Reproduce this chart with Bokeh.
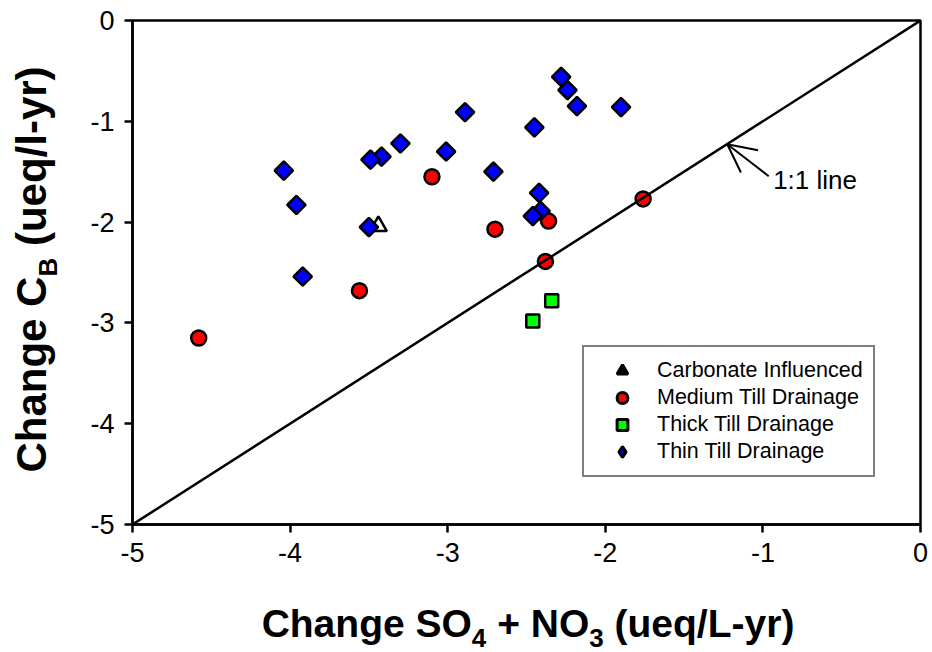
import math
from bokeh.plotting import figure
from bokeh.models import (Range1d, Legend, LegendItem, Label, Arrow, OpenHead,
                          FixedTicker, LinearAxis)
from bokeh.embed import file_html
from bokeh.resources import INLINE

# ---- data ----
carb_x = [-3.44]
carb_y = [-2.04]

med_x = [-3.10, -2.36, -2.70, -1.76, -2.38, -3.56, -4.58]
med_y = [-1.55, -1.99, -2.07, -1.77, -2.39, -2.68, -3.15]

thick_x = [-2.34, -2.46]
thick_y = [-2.78, -2.98]

thin_x = [-2.28, -2.24, -2.18, -1.90, -2.89, -2.45, -3.30, -3.42, -3.49,
          -3.01, -4.04, -2.71, -2.42, -3.96, -2.41, -2.46, -3.50, -3.92]
thin_y = [-0.56, -0.69, -0.85, -0.86, -0.91, -1.06, -1.22, -1.35, -1.38,
          -1.30, -1.49, -1.50, -1.71, -1.83, -1.89, -1.94, -2.05, -2.54]

line_x = [-5, 0]
line_y = [-5, 0]

x_ticks = [-5, -4, -3, -2, -1, 0]
y_ticks = [-5, -4, -3, -2, -1, 0]

series_labels = ["Carbonate Influenced", "Medium Till Drainage",
                 "Thick Till Drainage", "Thin Till Drainage"]

# axis titles: (text, is_subscript)
x_title = [("Change SO", False), ("4", True), (" + NO", False), ("3", True), (" (ueq/L-yr)", False)]
y_title = [("Change C", False), ("B", True), (" (ueq/l-yr)", False)]

FONT = "Liberation Sans"
NAN = float("nan")
X0, X1, Y0, Y1 = -5, 0, -5, 0
FRAME_W, FRAME_H = 788, 504

p = figure(frame_width=FRAME_W, frame_height=FRAME_H,
           x_range=Range1d(X0, X1), y_range=Range1d(Y0, Y1),
           output_backend="svg", toolbar_location=None,
           min_border_left=132, min_border_right=12,
           min_border_top=20, min_border_bottom=128)

p.xgrid.visible = False
p.ygrid.visible = False
p.background_fill_color = "white"
p.border_fill_color = "white"
p.outline_line_color = "black"
p.outline_line_width = 2.5
p.outline_line_alpha = 1

for ax, ticks in ((p.xaxis[0], x_ticks), (p.yaxis[0], y_ticks)):
    ax.ticker = FixedTicker(ticks=ticks)
    ax.major_label_overrides = {t: str(t) for t in ticks}
    ax.axis_line_color = "black"
    ax.axis_line_width = 2.5
    ax.major_tick_line_color = "black"
    ax.major_tick_line_width = 2.5
    ax.major_tick_in = 0
    ax.major_tick_out = 8
    ax.minor_tick_line_color = None
    ax.major_label_text_font = FONT
    ax.major_label_text_font_size = "27px"
    ax.major_label_text_color = "black"
    ax.major_label_standoff = 10
    ax.axis_label = None

# ---- data marks ----
p.scatter(carb_x, carb_y, marker="triangle", size=17,
          fill_color="white", line_color="black", line_width=2.5)
p.scatter(med_x, med_y, marker="circle", size=15,
          fill_color="#ff0000", line_color="black", line_width=2.5)
p.scatter(thick_x, thick_y, marker="square", size=13,
          fill_color="#00ff00", line_color="black", line_width=2.5)
p.scatter(thin_x, thin_y, marker="square", angle=math.pi / 4, size=13,
          fill_color="#0000ff", line_color="black", line_width=2.5)

p.line(line_x, line_y, line_color="black", line_width=2.5)

# ---- legend (legend-only renderers, nothing drawn in the plot) ----
lg_carb = p.scatter(x=[NAN], y=[NAN], marker="triangle", fill_color="black",
                    line_color="black", line_width=3)
lg_med = p.scatter(x=[NAN], y=[NAN], marker="circle", fill_color="#ff0000",
                   line_color="black", line_width=3)
lg_thick = p.scatter(x=[NAN], y=[NAN], marker="square", fill_color="#00ff00",
                     line_color="black", line_width=3)
lg_thin = p.scatter(x=[NAN], y=[NAN], marker="diamond", fill_color="#0000ff",
                    line_color="black", line_width=3)

legend = Legend(items=[LegendItem(label=series_labels[0], renderers=[lg_carb]),
                       LegendItem(label=series_labels[1], renderers=[lg_med]),
                       LegendItem(label=series_labels[2], renderers=[lg_thick]),
                       LegendItem(label=series_labels[3], renderers=[lg_thin])],
                location=(450, 47), margin=0, padding=10, spacing=0,
                glyph_height=27, glyph_width=56, label_standoff=7, label_height=27,
                label_text_font=FONT, label_text_font_size="21.5px",
                label_text_color="black", label_text_baseline="middle",
                border_line_color="black", border_line_width=2,
                background_fill_color="white", background_fill_alpha=1)
p.add_layout(legend)

# ---- 1:1 line annotation ----
p.add_layout(Arrow(end=OpenHead(size=28, line_width=2, line_color="black"),
                   x_start=-0.963, y_start=-1.545, x_end=-1.226, y_end=-1.228,
                   line_width=2, line_color="black"))
p.add_layout(Label(x=-0.935, y=-1.584, text="1:1 line", text_font=FONT,
                   text_font_size="26px", text_baseline="middle",
                   text_color="black"))

# ---- axis titles with subscripts, drawn as tick labels of extra axes ----
AB = {'C': 722, 'h': 611, 'a': 556, 'n': 611, 'g': 611, 'e': 556, ' ': 278,
      'S': 667, 'O': 778, '+': 584, 'N': 722, '(': 333, 'u': 611, 'q': 611,
      '/': 278, 'L': 611, '-': 333, 'y': 556, 'r': 389, ')': 333, 'B': 722,
      'l': 278, '4': 556, '3': 556}


def tw(s, size):
    return sum(AB.get(c, 556) for c in s) * size / 1000.0


def title_axes(parts, main_size, sub_size, span_px, center_px, d0, d1, side,
               main_standoff, sub_standoff, sub_first):
    sizes = [sub_size if sub else main_size for _, sub in parts]
    widths = [tw(t, s) for (t, _), s in zip(parts, sizes)]
    pos = center_px - sum(widths) / 2.0
    main_t, main_l, sub_t, sub_l = [], [], [], []
    for (t, sub), w, s in zip(parts, widths, sizes):
        core = t.strip()
        lead = tw(t[:len(t) - len(t.lstrip())], s)
        mid = pos + lead + tw(core, s) / 2.0
        c = round(d0 + mid / span_px * (d1 - d0), 5)
        (sub_t if sub else main_t).append(c)
        (sub_l if sub else main_l).append(core)
        pos += w
    axes = []
    for ticks, labels, fs, so in ((main_t, main_l, main_size, main_standoff),
                                   (sub_t, sub_l, sub_size, sub_standoff)):
        ax = LinearAxis(ticker=FixedTicker(ticks=ticks),
                        major_label_overrides=dict(zip(ticks, labels)),
                        axis_line_color=None, major_tick_line_color=None,
                        minor_tick_line_color=None, major_tick_in=0, major_tick_out=0,
                        major_label_standoff=so,
                        major_label_text_font=FONT,
                        major_label_text_font_size=f"{fs}px",
                        major_label_text_font_style="bold",
                        major_label_text_color="black")
        if side == "left":
            ax.major_label_orientation = "vertical"
        axes.append(ax)
    if sub_first:
        axes.reverse()
    for ax in axes:
        p.add_layout(ax, side)


title_axes(x_title, 39, 26, FRAME_W, 395.5, X0, X1, "below", 37, -19, False)
title_axes(y_title, 42, 26, FRAME_H, 255.0, Y0, Y1, "left", -25, 24, True)

open("out.html", "w").write(file_html(p, INLINE))
